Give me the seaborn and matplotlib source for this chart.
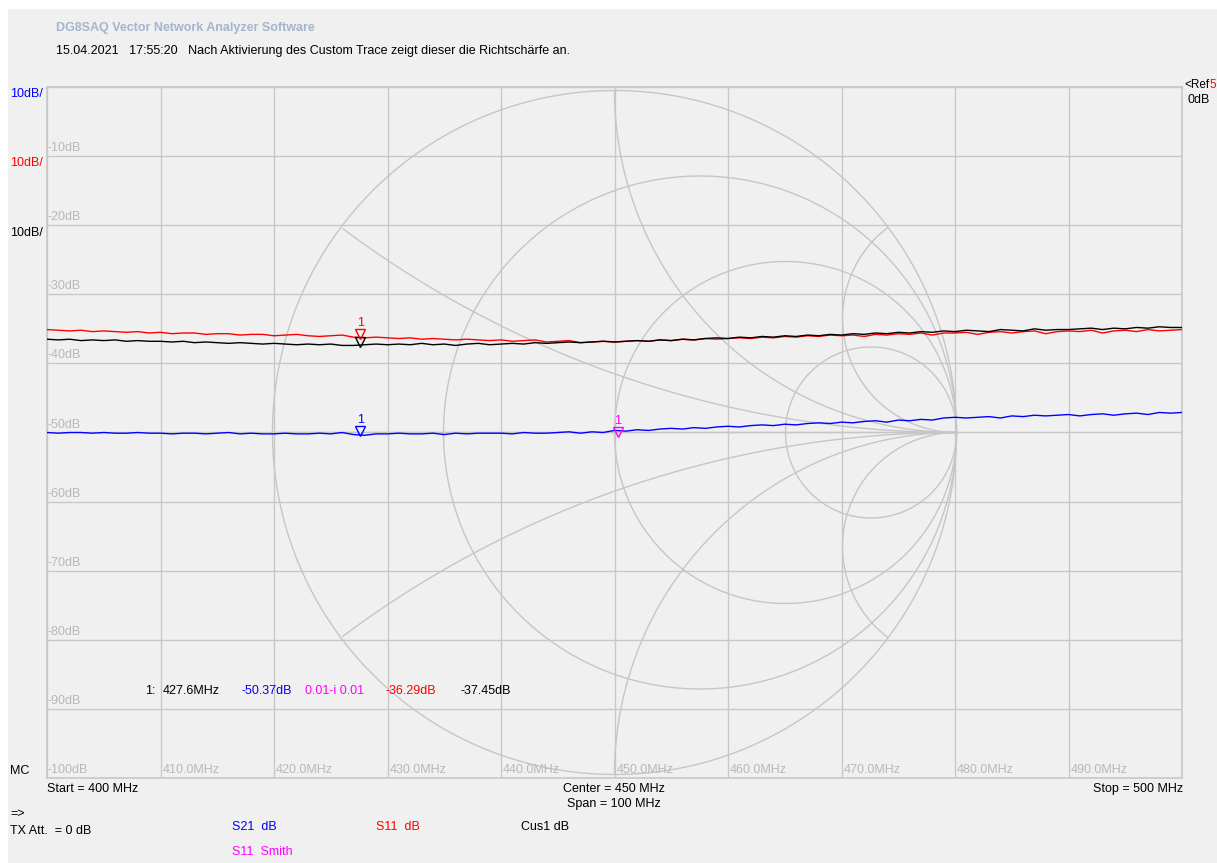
import numpy as np
import pandas as pd
import matplotlib
matplotlib.use("Agg")
import matplotlib.pyplot as plt
import matplotlib.transforms as mtransforms
import seaborn as sns

# ---------------- data ----------------
freq_mhz = list(range(400, 501))

s11_db = [
    -35.1, -35.2, -35.3, -35.2, -35.4, -35.3, -35.4, -35.5, -35.4, -35.6,
    -35.5, -35.7, -35.6, -35.6, -35.8, -35.7, -35.7, -35.9, -35.8, -35.8,
    -36.0, -35.9, -35.8, -36.0, -36.1, -36.0, -35.9, -36.2, -36.3, -36.2,
    -36.3, -36.4, -36.3, -36.5, -36.4, -36.5, -36.6, -36.5, -36.6, -36.7,
    -36.6, -36.8, -36.7, -36.6, -36.9, -36.8, -36.7, -37.0, -36.9, -36.8,
    -36.9, -36.8, -36.7, -36.8, -36.6, -36.7, -36.5, -36.6, -36.4, -36.5,
    -36.4, -36.3, -36.4, -36.2, -36.3, -36.1, -36.2, -36.0, -36.1, -35.9,
    -36.0, -35.9, -36.1, -35.8, -35.9, -35.7, -35.8, -35.6, -35.9, -35.6,
    -35.6, -35.5, -35.8, -35.5, -35.4, -35.6, -35.4, -35.3, -35.7, -35.4,
    -35.3, -35.4, -35.2, -35.6, -35.3, -35.2, -35.4, -35.1, -35.3, -35.2,
    -35.1,
]

cus1_db = [
    -36.5, -36.6, -36.5, -36.7, -36.6, -36.7, -36.6, -36.8, -36.7, -36.8,
    -36.8, -36.9, -36.8, -37.0, -36.9, -37.0, -37.1, -37.0, -37.1, -37.2,
    -37.1, -37.2, -37.3, -37.2, -37.3, -37.2, -37.4, -37.4, -37.3, -37.2,
    -37.3, -37.2, -37.3, -37.1, -37.3, -37.2, -37.4, -37.2, -37.1, -37.3,
    -37.2, -37.1, -37.2, -37.0, -37.1, -37.0, -36.9, -37.0, -36.9, -36.8,
    -36.9, -36.8, -36.7, -36.8, -36.6, -36.7, -36.5, -36.6, -36.4, -36.3,
    -36.4, -36.2, -36.3, -36.1, -36.2, -36.0, -36.1, -35.9, -36.0, -35.8,
    -35.9, -35.7, -35.8, -35.6, -35.7, -35.5, -35.6, -35.4, -35.5, -35.3,
    -35.4, -35.2, -35.3, -35.4, -35.1, -35.2, -35.3, -35.0, -35.2, -35.1,
    -35.1, -35.0, -34.9, -35.1, -34.9, -35.0, -34.8, -34.9, -34.7, -34.8,
    -34.8,
]

s21_db = [
    -50.0, -50.1, -50.0, -50.0, -50.1, -50.0, -50.1, -50.1, -50.0, -50.1,
    -50.1, -50.2, -50.1, -50.1, -50.2, -50.1, -50.0, -50.2, -50.1, -50.2,
    -50.2, -50.1, -50.2, -50.2, -50.1, -50.2, -50.0, -50.3, -50.4, -50.2,
    -50.2, -50.1, -50.2, -50.2, -50.1, -50.3, -50.1, -50.2, -50.1, -50.1,
    -50.1, -50.2, -50.0, -50.1, -50.1, -50.0, -49.9, -50.1, -49.9, -50.0,
    -49.7, -49.8, -49.6, -49.7, -49.5, -49.4, -49.5, -49.3, -49.4, -49.2,
    -49.1, -49.2, -49.0, -48.9, -49.0, -48.8, -48.9, -48.7, -48.6, -48.7,
    -48.5, -48.6, -48.4, -48.3, -48.5, -48.2, -48.3, -48.1, -48.2, -47.9,
    -47.8, -47.9, -47.8, -47.7, -47.9, -47.6, -47.7, -47.5, -47.6, -47.5,
    -47.4, -47.6, -47.4, -47.3, -47.5, -47.3, -47.2, -47.4, -47.1, -47.2,
    -47.1,
]

# marker 1 readout
marker_freq = 427.6
marker_s21 = -50.37
marker_s11 = -36.29
marker_cus1 = -37.45
marker_smith = (0.01, -0.01)

x_tick_vals = list(range(410, 500, 10))
y_tick_vals = list(range(-10, -101, -10))
smith_r = [1 / 3, 1.0, 3.0]
smith_x = [1 / 3, 1.0, 3.0, -1 / 3, -1.0, -3.0]

# ---------------- figure ----------------
W, H = 1217, 863
sns.set_theme(style="white")
plt.rcParams["font.family"] = ["Liberation Sans", "DejaVu Sans"]

BG = "#f0f0f0"
GRID = "#c8c8c8"
SMITH = "#c6c6c6"
LBL = "#b8b8b8"
BLUE, RED, MAG = "#0000ff", "#ff0000", "#ff00ff"

fig = plt.figure(figsize=(W / 100, H / 100), dpi=100, facecolor=BG)
# white screenshot margin
fig.patches.append(plt.Rectangle((0, 1 - 8 / H), 1, 8 / H, transform=fig.transFigure,
                                 color="white", zorder=-5))
fig.patches.append(plt.Rectangle((0, 0), 7 / W, 1, transform=fig.transFigure,
                                 color="white", zorder=-5))

L, R, T, B = 47, 1182, 87, 778
ax = fig.add_axes([L / W, 1 - B / H, (R - L) / W, (B - T) / H])
ax.set_facecolor(BG)
ax.set_xlim(400, 500)
ax.set_ylim(-100, 0)
ax.set_xticks(list(range(400, 501, 10)))
ax.set_yticks(list(range(-100, 1, 10)))
ax.grid(True, color=GRID, lw=1.0)
ax.tick_params(length=0, labelbottom=False, labelleft=False)
for s in ax.spines.values():
    s.set_color(GRID)
    s.set_linewidth(1.2)

# Smith chart overlay (unit circle mapped onto the plot)
SX = 342 / ((R - L) / 100.0)   # MHz per unit reflection
SY = 342 / ((B - T) / 100.0)   # dB per unit reflection
CX, CY = 450.0, -50.0


def to_data(u, v):
    return CX + SX * np.asarray(u), CY + SY * np.asarray(v)


t = np.linspace(0, 2 * np.pi, 721)
ux, uy = to_data(np.cos(t), np.sin(t))
ax.plot(ux, uy, color=SMITH, lw=1, zorder=1)
for r in smith_r:
    c, rad = r / (1 + r), 1 / (1 + r)
    px_, py_ = to_data(c + rad * np.cos(t), rad * np.sin(t))
    ax.plot(px_, py_, color=SMITH, lw=1, zorder=1)
for xv in smith_x:
    rad = 1 / abs(xv)
    if xv > 0:
        tt = np.linspace(-np.pi / 2, 3 * np.pi / 2, 2000)
    else:
        tt = np.linspace(np.pi / 2, 5 * np.pi / 2, 2000)
    u = 1 + rad * np.cos(tt)
    v = 1 / xv + rad * np.sin(tt)
    inside = u ** 2 + v ** 2 <= 1.0 + 1e-9
    u = np.where(inside, u, np.nan)
    v = np.where(inside, v, np.nan)
    px_, py_ = to_data(u, v)
    ax.plot(px_, py_, color=SMITH, lw=1, zorder=1)
ax.plot(*to_data([-1, 1], [0, 0]), color=SMITH, lw=1, zorder=1)

# traces
df = pd.DataFrame({
    "freq": freq_mhz * 3,
    "dB": s21_db + s11_db + cus1_db,
    "trace": ["S21"] * len(freq_mhz) + ["S11"] * len(freq_mhz) + ["Cus1"] * len(freq_mhz),
})
sns.lineplot(data=df, x="freq", y="dB", hue="trace",
             palette={"S21": BLUE, "S11": RED, "Cus1": "#000000"},
             hue_order=["S21", "S11", "Cus1"], lw=1.0, legend=False, ax=ax,
             zorder=3, estimator=None)
ax.set_xlabel("")
ax.set_ylabel("")
ax.set_xlim(400, 500)
ax.set_ylim(-100, 0)


# markers
def marker(xv, yv, color, label=True, num_dy=15):
    tr = mtransforms.offset_copy(ax.transData, fig=fig, x=0, y=4, units="dots")
    ax.plot([xv], [yv], marker="v", ms=6.5, mfc="none", mec=color, mew=1.0,
            transform=tr, zorder=5)
    if label:
        ax.annotate("1", (xv, yv), xytext=(0, num_dy), textcoords="offset pixels",
                    ha="center", va="center", color=color, fontsize=9, zorder=6)


marker(marker_freq, marker_s21, BLUE)
marker(marker_freq, marker_cus1, "#000000", label=False)
marker(marker_freq, marker_s11, RED)
mx, my = to_data(marker_smith[0], marker_smith[1])
marker(float(mx), float(my), MAG)

# tick labels inside the plot
for f in x_tick_vals:
    ax.annotate(f"{f:.1f}MHz", (f, -100), xytext=(2, 2), textcoords="offset pixels",
                ha="left", va="bottom", color=LBL, fontsize=9)
for d in y_tick_vals:
    ax.annotate(f"{d}dB", (400, d), xytext=(1, 2), textcoords="offset pixels",
                ha="left", va="bottom", color=LBL, fontsize=9)


def ftext(x, y, s, color="black", ha="left", size=9, **kw):
    fig.text(x / W, 1 - y / H, s, color=color, ha=ha, va="center", fontsize=size, **kw)


# header
ftext(56, 28, "DG8SAQ Vector Network Analyzer Software", color="#a3b5cf", fontweight="bold")
ftext(56, 51, "15.04.2021   17:55:20   Nach Aktivierung des Custom Trace zeigt dieser die Richtschärfe an.")

# left scale labels
ftext(10, 94, "10dB/", color=BLUE)
ftext(10, 163, "10dB/", color=RED)
ftext(10, 233, "10dB/", color="black")

# right reference labels
ftext(1184, 85, "<Ref", size=8.5)
ftext(1209, 85, "5", color=RED, size=8.5)
ftext(1188, 100, "0dB")

# marker readout
ftext(145, 691, "1:")
ftext(163, 691, f"{marker_freq:.1f}MHz")
ftext(242, 691, f"{marker_s21:.2f}dB", color=BLUE)
ftext(305, 691, f"{marker_smith[0]:.2f}-i {abs(marker_smith[1]):.2f}", color=MAG)
ftext(385, 691, f"{marker_s11:.2f}dB", color=RED)
ftext(461, 691, f"{marker_cus1:.2f}dB", color="black")

# bottom info
ftext(10, 771, "MC")
ftext(47, 789, "Start = 400 MHz")
ftext(614, 789, "Center = 450 MHz", ha="center")
ftext(614, 804, "Span = 100 MHz", ha="center")
ftext(1183, 789, "Stop = 500 MHz", ha="right")
ftext(10, 814, "=>")
ftext(10, 831, "TX Att.  = 0 dB")
ftext(232, 827, "S21  dB", color=BLUE)
ftext(376, 827, "S11  dB", color=RED)
ftext(521, 827, "Cus1 dB", color="black")
ftext(232, 852, "S11  Smith", color=MAG)

fig.savefig("out.png", dpi=100, facecolor=BG)
